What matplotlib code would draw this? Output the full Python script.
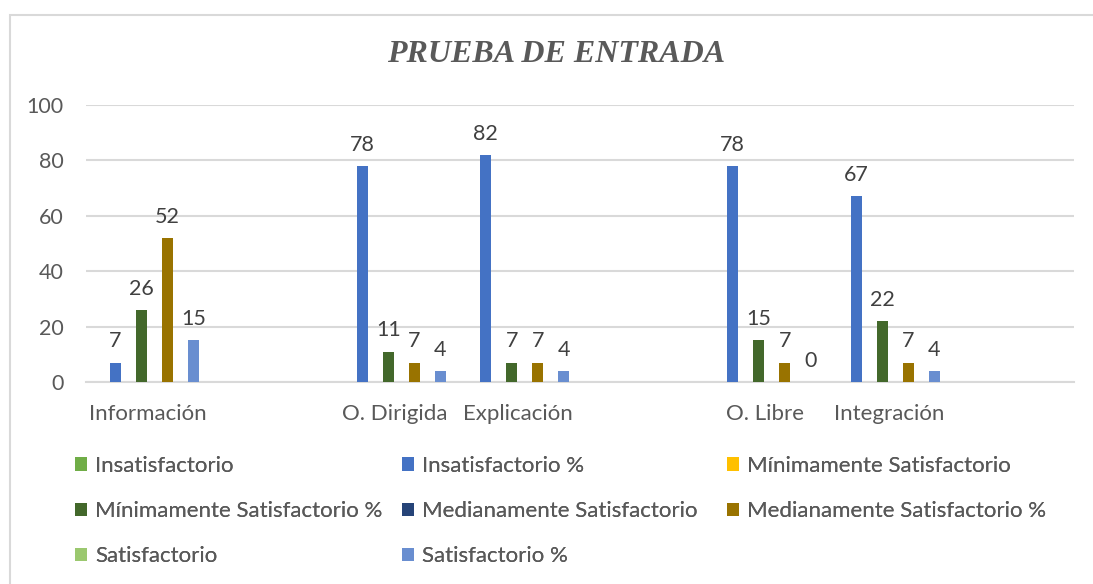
import numpy as np
import matplotlib as mpl
import matplotlib.pyplot as plt
from matplotlib.patches import Rectangle

mpl.use('Agg')
plt.rcParams['font.family'] = ['Lato', 'DejaVu Sans']

nan = np.nan
categorias = ["Información", "", "O. Dirigida", "Explicación", "", "O. Libre", "Integración", ""]

insatisfactorio = [nan] * 8
insatisfactorio_pct = [7, nan, 78, 82, nan, 78, 67, nan]
minimo = [nan] * 8
minimo_pct = [26, nan, 11, 7, nan, 15, 22, nan]
mediano = [nan] * 8
mediano_pct = [52, nan, 7, 7, nan, 7, 7, nan]
satisfactorio = [nan] * 8
satisfactorio_pct = [15, nan, 4, 4, nan, 0, 4, nan]

series = [insatisfactorio, insatisfactorio_pct, minimo, minimo_pct,
          mediano, mediano_pct, satisfactorio, satisfactorio_pct]
nombres = ["Insatisfactorio", "Insatisfactorio %", "Mínimamente Satisfactorio",
           "Mínimamente Satisfactorio %", "Medianamente Satisfactorio",
           "Medianamente Satisfactorio %", "Satisfactorio", "Satisfactorio %"]
colores = ["#70AD47", "#4472C4", "#FFC000", "#43682B",
           "#264478", "#997300", "#9BC86F", "#698ED0"]

W, H = 1093, 584
fig = plt.figure(figsize=(W / 100, H / 100), dpi=100)
ax = fig.add_axes([86 / W, 1 - 382 / H, (1074 - 86) / W, (382 - 105) / H])

x = np.arange(len(categorias))
slot = 1 / 9.5
handles = []
for i, (vals, nombre, color) in enumerate(zip(series, nombres, colores)):
    v = np.array(vals, dtype=float)
    bars = ax.bar(x + (i - 3.5) * slot, v, width=slot * 0.85, color=color,
                  label=nombre, zorder=3)
    handles.append(bars)
    etiquetas = ["" if np.isnan(a) else "%d" % a for a in v]
    ax.bar_label(bars, labels=etiquetas, padding=8, fontsize=15.5, color="#404040")

ax.set_xlim(-0.5, len(categorias) - 0.5)
ax.set_ylim(0, 100)
ax.set_yticks([0, 20, 40, 60, 80, 100])
ax.set_xticks(x)
ax.set_xticklabels(categorias)
ax.grid(axis='y', color="#D9D9D9", linewidth=1.5, zorder=0)
for s in ['top', 'right', 'left']:
    ax.spines[s].set_visible(False)
ax.spines['bottom'].set_color("#D9D9D9")
ax.spines['bottom'].set_linewidth(1.5)
ax.tick_params(axis='both', length=0, labelcolor="#595959")
ax.tick_params(axis='y', pad=16, labelsize=15.5)
ax.tick_params(axis='x', pad=16, labelsize=16)

fig.text(556 / W, 1 - 54 / H, "PRUEBA DE ENTRADA", ha='center', va='center',
         fontsize=23, fontweight='bold', fontstyle='italic',
         family=['Liberation Serif'], color="#595959")

# leyenda en tres columnas
col_x = [75, 402, 727]
for c in range(3):
    idx = [k for k in range(c, 8, 3)]
    leg = fig.legend([handles[k] for k in idx], [nombres[k] for k in idx],
                     loc='upper left', bbox_to_anchor=(col_x[c] / W, 1 - 456 / H),
                     frameon=False, fontsize=16, labelcolor="#595959",
                     handlelength=0.55, handleheight=0.55, handletextpad=0.35,
                     labelspacing=1.13, borderaxespad=0, borderpad=0)
    fig.add_artist(leg)

fig.patches.append(Rectangle((10 / W, -0.01), 1.0, 1 - 15 / H + 0.01,
                             transform=fig.transFigure, fill=False,
                             edgecolor="#D9D9D9", linewidth=1.5))

fig.savefig("out.png", dpi=100)
